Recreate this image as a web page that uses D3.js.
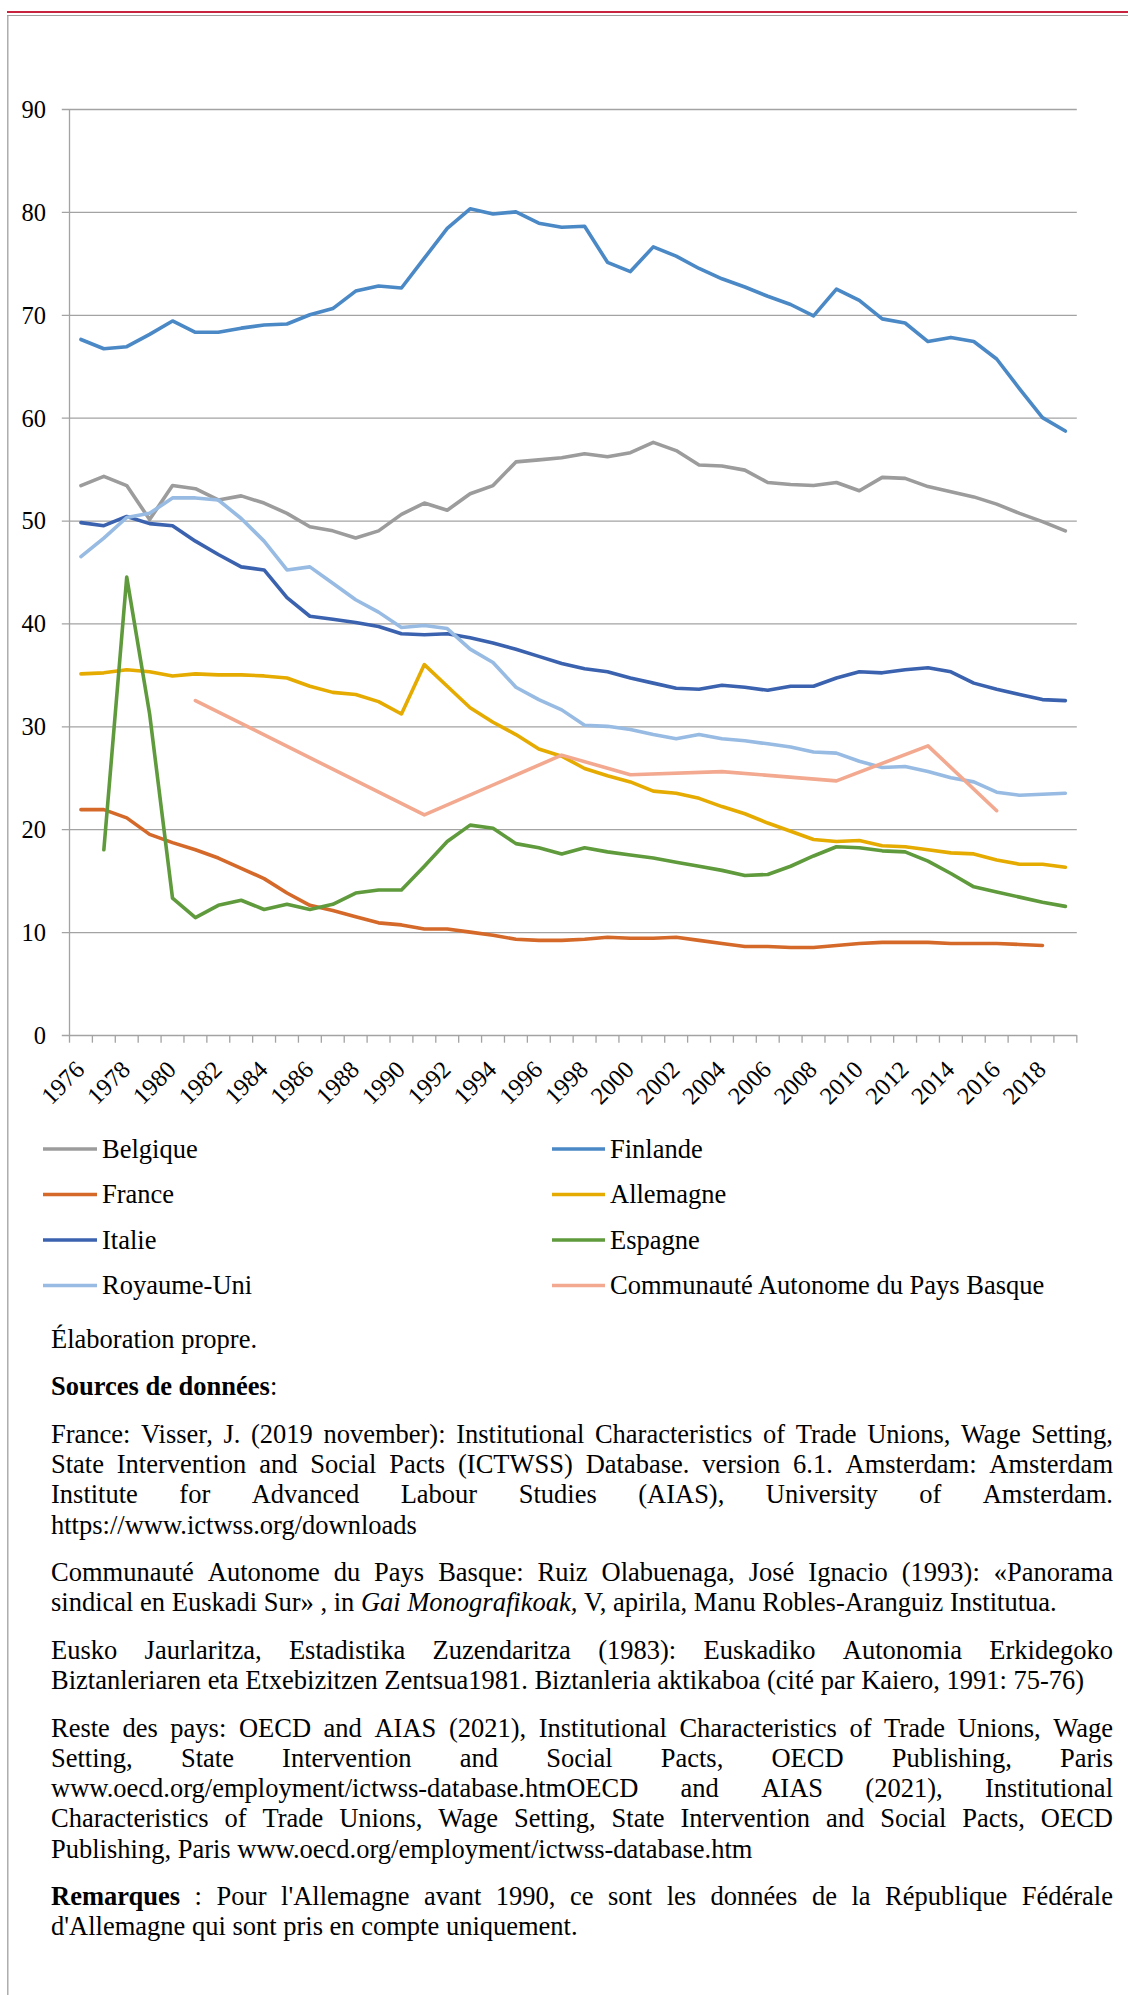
<!DOCTYPE html>
<html>
<head>
<meta charset="utf-8">
<script src="https://cdn.jsdelivr.net/npm/d3@7"></script>
<style>
  html, body { margin: 0; padding: 0; background: #fff; }
  svg { display: block; }
</style>
</head>
<body>
<script>
// ---------------- DATA ----------------
const years = d3.range(1976, 2020);
const yTicks = [0, 10, 20, 30, 40, 50, 60, 70, 80, 90];
const xLabelYears = years.filter((d, i) => i % 2 === 0);

const seriesNames = ["Belgique", "Finlande", "France", "Allemagne", "Italie", "Espagne", "Royaume-Uni", "Communauté Autonome du Pays Basque"];
const seriesColors = ["#9c9c9c", "#4a89c6", "#d4692a", "#e5ab00", "#3b62af", "#5f9b3c", "#97bbe3", "#f2a98f"];

const belgique = [53.4,54.3,53.4,50.1,53.4,53.1,52.0,52.4,51.7,50.7,
                  49.4,49.0,48.3,49.0,50.6,51.7,51.0,52.6,53.4,55.7,
                  55.9,56.1,56.5,56.2,56.6,57.6,56.8,55.4,55.3,54.9,
                  53.7,53.5,53.4,53.7,52.9,54.2,54.1,53.3,52.8,52.3,
                  51.6,50.7,49.9,49.0];
const finlande = [67.6,66.7,66.9,68.1,69.4,68.3,68.3,68.7,69.0,69.1,
                  70.0,70.6,72.3,72.8,72.6,75.5,78.4,80.3,79.8,80.0,
                  78.9,78.5,78.6,75.1,74.2,76.6,75.7,74.5,73.5,72.7,
                  71.8,71.0,69.9,72.5,71.4,69.6,69.2,67.4,67.8,67.4,
                  65.7,62.8,60.0,58.7];
const france = [21.9,21.9,21.1,19.5,18.7,18.0,17.2,16.2,15.2,13.8,
                12.6,12.1,11.5,10.9,10.7,10.3,10.3,10.0,9.7,9.3,
                9.2,9.2,9.3,9.5,9.4,9.4,9.5,9.2,8.9,8.6,
                8.6,8.5,8.5,8.7,8.9,9.0,9.0,9.0,8.9,8.9,
                8.9,8.8,8.7,null];
const allemagne = [35.1,35.2,35.5,35.3,34.9,35.1,35.0,35.0,34.9,34.7,
                   33.9,33.3,33.1,32.4,31.2,36.0,33.9,31.8,30.4,29.2,
                   27.8,27.1,25.9,25.2,24.6,23.7,23.5,23.0,22.2,21.5,
                   20.6,19.8,19.0,18.8,18.9,18.4,18.3,18.0,17.7,17.6,
                   17.0,16.6,16.6,16.3];
const italie = [49.8,49.5,50.4,49.7,49.5,48.0,46.7,45.5,45.2,42.5,
                40.7,40.4,40.1,39.7,39.0,38.9,39.0,38.6,38.1,37.5,
                36.8,36.1,35.6,35.3,34.7,34.2,33.7,33.6,34.0,33.8,
                33.5,33.9,33.9,34.7,35.3,35.2,35.5,35.7,35.3,34.2,
                33.6,33.1,32.6,32.5];
const espagne = [null,18.0,44.5,31.2,13.3,11.4,12.6,13.1,12.2,12.7,
                 12.2,12.7,13.8,14.1,14.1,16.4,18.8,20.4,20.1,18.6,
                 18.2,17.6,18.2,17.8,17.5,17.2,16.8,16.4,16.0,15.5,
                 15.6,16.4,17.4,18.3,18.2,17.9,17.8,16.9,15.7,14.4,
                 13.9,13.4,12.9,12.5];
const royaumeUni = [46.5,48.3,50.3,50.7,52.2,52.2,52.0,50.2,48.0,45.2,
                    45.5,43.9,42.3,41.1,39.6,39.8,39.5,37.5,36.2,33.8,
                    32.6,31.6,30.1,30.0,29.7,29.2,28.8,29.2,28.8,28.6,
                    28.3,28.0,27.5,27.4,26.6,26.0,26.1,25.6,25.0,24.6,
                    23.6,23.3,23.4,23.5];
const paysBasque = [null,null,null,null,null,32.5,null,null,null,null,
                    null,null,null,null,null,21.4,null,null,null,null,
                    null,27.2,null,null,25.3,null,null,null,25.6,null,
                    null,null,null,24.7,null,null,null,28.1,null,null,
                    21.8,null,null,null];

const seriesValues = [belgique, finlande, france, allemagne, italie, espagne, royaumeUni, paysBasque];

const noteParagraphs = [
  ["Élaboration propre."],
  ["**Sources de données**:"],
  ["France: Visser, J. (2019 november): Institutional Characteristics of Trade Unions, Wage Setting,",
   "State Intervention and Social Pacts (ICTWSS) Database. version 6.1. Amsterdam: Amsterdam",
   "Institute for Advanced Labour Studies (AIAS), University of Amsterdam.",
   "https://www.ictwss.org/downloads"],
  ["Communauté Autonome du Pays Basque: Ruiz Olabuenaga, José Ignacio (1993): «Panorama",
   "sindical en Euskadi Sur» , in *Gai Monografikoak,* V, apirila, Manu Robles-Aranguiz Institutua."],
  ["Eusko Jaurlaritza, Estadistika Zuzendaritza (1983): Euskadiko Autonomia Erkidegoko",
   "Biztanleriaren eta Etxebizitzen Zentsua1981. Biztanleria aktikaboa (cité par Kaiero, 1991: 75-76)"],
  ["Reste des pays: OECD and AIAS (2021), Institutional Characteristics of Trade Unions, Wage",
   "Setting, State Intervention and Social Pacts, OECD Publishing, Paris",
   "www.oecd.org/employment/ictwss-database.htmOECD and AIAS (2021), Institutional",
   "Characteristics of Trade Unions, Wage Setting, State Intervention and Social Pacts, OECD",
   "Publishing, Paris www.oecd.org/employment/ictwss-database.htm"],
  ["**Remarques** : Pour l'Allemagne avant 1990, ce sont les données de la République Fédérale",
   "d'Allemagne qui sont pris en compte uniquement."]
];

// ---------------- LAYOUT ----------------
const W = 1128, H = 1995;
const FONT = "'Liberation Serif', 'Times New Roman', Times, serif";
const plotLeft = 69.5, plotRight = 1076.8, plotTop = 109, plotBottom = 1035;
const gridColor = "#a3a3a3";

const svg = d3.select("body").append("svg")
  .attr("width", W).attr("height", H)
  .style("background", "#fff");

// frame
svg.append("line").attr("x1", 7).attr("x2", W).attr("y1", 12).attr("y2", 12)
  .attr("stroke", "#c8243f").attr("stroke-width", 2);
svg.append("line").attr("x1", 7).attr("x2", W).attr("y1", 15.5).attr("y2", 15.5)
  .attr("stroke", "#a0a0a0").attr("stroke-width", 1.2);
svg.append("line").attr("x1", 7.8).attr("x2", 7.8).attr("y1", 15).attr("y2", H)
  .attr("stroke", "#a0a0a0").attr("stroke-width", 1.3);

const x = d3.scaleBand().domain(years).range([plotLeft, plotRight]).padding(0);
const y = d3.scaleLinear().domain([0, 90]).range([plotBottom, plotTop]);
const cx = d => x(d) + x.bandwidth() / 2;

// y axis + gridlines
const yAxis = d3.axisLeft(y)
  .tickValues(yTicks)
  .tickSize(-(plotRight - plotLeft))
  .tickPadding(23.5)
  .tickFormat(d3.format("d"));
const gy = svg.append("g").attr("transform", `translate(${plotLeft},0)`).call(yAxis);
gy.select(".domain").remove();
gy.selectAll(".tick line").attr("x1", -7.7).attr("stroke", gridColor).attr("stroke-width", 1.3);
gy.selectAll(".tick text")
  .attr("font-family", FONT).attr("font-size", 24.5).attr("fill", "#000")
  .attr("dy", "0.34em");

// y axis line
svg.append("line").attr("x1", plotLeft).attr("x2", plotLeft)
  .attr("y1", y(90)).attr("y2", y(0))
  .attr("stroke", gridColor).attr("stroke-width", 1.3);

// x axis ticks at category boundaries
const boundaries = years.map(d => x(d)).concat([x.range()[1]]);
svg.append("g").selectAll("line").data(boundaries).join("line")
  .attr("x1", d => d).attr("x2", d => d)
  .attr("y1", y(0)).attr("y2", y(0) + 7.7)
  .attr("stroke", gridColor).attr("stroke-width", 1.3);

// x labels
svg.append("g").selectAll("text").data(xLabelYears).join("text")
  .attr("transform", d => `translate(${cx(d) + 5},${y(0) + 36}) rotate(-45)`)
  .attr("text-anchor", "end")
  .attr("font-family", FONT).attr("font-size", 24.5).attr("fill", "#000")
  .text(d => d);

// series lines
const line = d3.line().x(d => cx(d.year)).y(d => y(d.value));
const gLines = svg.append("g");
seriesValues.forEach((vals, si) => {
  const pts = years.map((yr, i) => ({ year: yr, value: vals[i] })).filter(d => d.value != null);
  gLines.append("path")
    .attr("d", line(pts))
    .attr("fill", "none")
    .attr("stroke", seriesColors[si])
    .attr("stroke-width", 3.6)
    .attr("stroke-linejoin", "round")
    .attr("stroke-linecap", "round");
});

// legend
const legendRows = [1149, 1194.5, 1240, 1285.5];
const legendCols = [{ x1: 43, x2: 97, tx: 102 }, { x1: 552, x2: 605, tx: 610 }];
const gLeg = svg.append("g");
seriesNames.forEach((name, i) => {
  const col = legendCols[i % 2], ry = legendRows[Math.floor(i / 2)];
  gLeg.append("line").attr("x1", col.x1).attr("x2", col.x2).attr("y1", ry).attr("y2", ry)
    .attr("stroke", seriesColors[i]).attr("stroke-width", 3.6);
  gLeg.append("text").attr("x", col.tx).attr("y", ry + 8.5)
    .attr("font-family", FONT).attr("font-size", 26.5).attr("fill", "#000")
    .text(name);
});

// notes (justified paragraphs)
const noteLeft = 51, noteRight = 1113, noteSize = 26.5;
const lineStep = 30.3, paraStep = 47.4;
const measurer = svg.append("text").attr("font-family", FONT).attr("font-size", noteSize)
  .attr("visibility", "hidden").attr("x", 0).attr("y", -100);

function parseRuns(str) {
  const parts = str.split(/(\*\*[^*]+\*\*|\*[^*]+\*)/).filter(s => s.length);
  return parts.map(p => {
    if (p.startsWith("**")) return { t: p.slice(2, -2), b: true, i: false };
    if (p.startsWith("*")) return { t: p.slice(1, -1), b: false, i: true };
    return { t: p, b: false, i: false };
  });
}
function toWords(runs) {
  const words = [];
  let cur = [];
  runs.forEach(r => {
    const pieces = r.t.split(" ");
    pieces.forEach((p, k) => {
      if (k > 0) { if (cur.length) words.push(cur); cur = []; }
      if (p.length) cur.push({ t: p, b: r.b, i: r.i });
    });
  });
  if (cur.length) words.push(cur);
  return words;
}
function fillRuns(sel, runs) {
  runs.forEach(r => sel.append("tspan").text(r.t)
    .attr("font-weight", r.b ? "bold" : null)
    .attr("font-style", r.i ? "italic" : null));
}
function measure(runs) {
  measurer.selectAll("tspan").remove();
  fillRuns(measurer, runs);
  return measurer.node().getComputedTextLength();
}
const spaceW = measure([{ t: "a a" }]) - measure([{ t: "aa" }]);

const gNotes = svg.append("g");
let baseY = 1348;
noteParagraphs.forEach((para, pi) => {
  if (pi > 0) baseY += paraStep;
  para.forEach((ln, li) => {
    if (li > 0) baseY += lineStep;
    const words = toWords(parseRuns(ln));
    const widths = words.map(w => measure(w));
    const total = d3.sum(widths);
    const justify = li < para.length - 1 && words.length > 1;
    const gap = justify ? (noteRight - noteLeft - total) / (words.length - 1) : spaceW;
    let xx = noteLeft;
    words.forEach((w, wi) => {
      const t = gNotes.append("text").attr("x", xx).attr("y", baseY)
        .attr("font-family", FONT).attr("font-size", noteSize).attr("fill", "#000");
      fillRuns(t, w);
      xx += widths[wi] + gap;
    });
  });
});
measurer.remove();
</script>
</body>
</html>
